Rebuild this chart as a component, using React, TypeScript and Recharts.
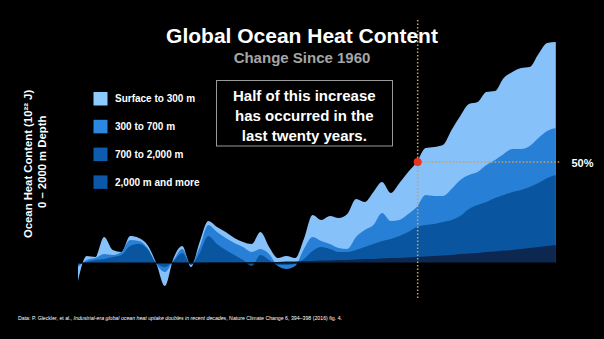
import { ComposedChart, Area, XAxis, YAxis, ReferenceLine, ReferenceDot } from "recharts";

// years of the series (x axis)
const years = [
  1960, 1961, 1962, 1963, 1964, 1965, 1966, 1967, 1968, 1969,
  1970, 1971, 1972, 1973, 1974, 1975, 1976, 1977, 1978, 1979,
  1980, 1981, 1982, 1983, 1984, 1985, 1986, 1987, 1988, 1989,
  1990, 1991, 1992, 1993, 1994, 1995, 1996, 1997, 1998, 1999,
  2000, 2001, 2002, 2003, 2004, 2005, 2006, 2007, 2008, 2009,
  2010, 2011, 2012, 2013, 2014, 2015,
];

// top edge of each band, cumulated from the bottom (10^22 J)
const surfaceEdge = [
  -1.8, 0.7, 0.6, 2.6, 1.3, 1.1, 2.7, 2.5, 1.8, 0.0,
  -2.3, 0.5, 1.7, -0.4, 2.1, 4.2, 3.6, 3.1, 2.5, 2.1,
  1.9, 3.1, 1.6, 0.5, 0.7, 0.5, 2.4, 4.8, 4.3, 4.7,
  4.5, 4.9, 6.4, 6.1, 7.1, 8.1, 7.0, 8.0, 9.1, 10.1,
  11.5, 11.6, 11.8, 13.3, 14.7, 15.9, 16.1, 17.1, 17.2, 18.5,
  19.1, 19.5, 19.6, 20.9, 22.0, 22.1,
];
const edge300to700 = [
  -0.4, 0.3, 0.5, 0.9, 0.8, 1.1, 2.3, 2.2, 1.5, -0.1,
  -0.9, 0.3, 1.4, -0.1, 1.6, 3.8, 3.1, 2.5, 2.0, 1.6,
  1.1, 1.4, 0.9, -0.3, -0.6, -0.3, 1.4, 2.6, 2.2, 1.9,
  1.5, 1.4, 2.6, 3.3, 3.8, 5.0, 4.2, 4.3, 4.9, 5.6,
  6.8, 6.7, 6.7, 7.4, 8.3, 8.8, 9.1, 9.8, 10.3, 10.9,
  11.4, 11.4, 11.7, 12.5, 13.2, 13.5,
];
const edge700to2000 = [
  -0.2, 0.1, 0.3, 0.4, 0.6, 0.8, 1.7, 1.9, 1.4, 0.0,
  -0.4, 0.2, 1.0, -0.2, 1.0, 2.7, 1.9, 1.3, 0.8, 0.3,
  -0.3, 0.8, 0.3, -0.2, -0.2, -0.1, 0.4, 1.2, 1.6, 1.4,
  1.1, 1.1, 1.3, 1.6, 1.9, 2.2, 2.4, 2.7, 3.1, 3.6,
  3.8, 3.9, 4.1, 4.3, 4.7, 5.4, 5.8, 6.1, 6.5, 6.8,
  7.1, 7.3, 7.6, 8.0, 8.5, 8.8,
];
const deepEdge = [
  0, 0, 0, 0, 0, 0, 0, 0, 0, 0,
  0, 0, 0, 0, 0, 0.05, 0.05, 0.05, 0.05, 0.05,
  0.1, 0.1, 0.1, 0.1, 0.15, 0.15, 0.2, 0.2, 0.25, 0.25,
  0.3, 0.3, 0.35, 0.4, 0.4, 0.45, 0.5, 0.5, 0.55, 0.6,
  0.65, 0.7, 0.75, 0.8, 0.9, 0.95, 1.0, 1.1, 1.15, 1.25,
  1.3, 1.4, 1.5, 1.6, 1.7, 1.8,
];

const legendLabels = ["Surface to 300 m", "300 to 700 m", "700 to 2,000 m", "2,000 m and more"];
const legendColors = ["#8ccbff", "#2b88e0", "#0d5cb0", "#0b57a8"];

const halfYear = 1999.1;
const halfValue = 10.1;

const data = years.map((year, i) => ({
  year,
  surface: surfaceEdge[i],
  mid: edge300to700[i],
  dark: edge700to2000[i],
  deep: deepEdge[i],
}));

const font = "'Liberation Sans', Arial, sans-serif";
const dotColor = "#cba062";

export default function App() {
  return (
    <div style={{ position: "absolute", left: 0, top: 0, width: 604, height: 339, background: "#000", overflow: "hidden" }}>
      <ComposedChart
        width={604}
        height={339}
        data={data}
        margin={{ top: 13, right: 39.5, bottom: 26, left: 78 }}
      >
        <XAxis type="number" dataKey="year" domain={[1960, 2016]} hide />
        <YAxis type="number" domain={[-5, 25]} hide allowDataOverflow />
        <Area type="monotone" dataKey="surface" baseValue={0} stroke="none" fill="#86c1fa" fillOpacity={1} isAnimationActive={false} activeDot={false} />
        <Area type="monotone" dataKey="mid" baseValue={0} stroke="none" fill="#2880d6" fillOpacity={1} isAnimationActive={false} activeDot={false} />
        <Area type="monotone" dataKey="dark" baseValue={0} stroke="none" fill="#0a55a0" fillOpacity={1} isAnimationActive={false} activeDot={false} />
        <Area type="monotone" dataKey="deep" baseValue={0} stroke="none" fill="#0c2850" fillOpacity={1} isAnimationActive={false} activeDot={false} />
        <ReferenceLine y={0} stroke="#000" strokeWidth={1.2} />
        <ReferenceLine
          segment={[{ x: halfYear, y: 24.3 }, { x: halfYear, y: -3.5 }]}
          stroke={dotColor}
          strokeWidth={1.5}
          strokeDasharray="1.5 2"
        />
        <ReferenceLine
          segment={[{ x: halfYear, y: halfValue }, { x: 2015.6, y: halfValue }]}
          stroke={dotColor}
          strokeWidth={1.5}
          strokeDasharray="1.5 2"
        />
        <ReferenceDot x={halfYear} y={halfValue} r={4} fill="#e8341c" stroke="none" />
      </ComposedChart>

      <svg width={604} height={339} style={{ position: "absolute", left: 0, top: 0, pointerEvents: "none" }} fontFamily={font}>
        <text x={302} y={43} textAnchor="middle" fill="#fff" fontSize={21} fontWeight="bold">
          Global Ocean Heat Content
        </text>
        <text x={302} y={63.3} textAnchor="middle" fill="#a6a6a6" fontSize={15} fontWeight="bold">
          Change Since 1960
        </text>

        <rect x={216.5} y={80.5} width={176} height={65.5} fill="none" stroke="#9a9a9a" strokeWidth={1} />
        {["Half of this increase", "has occurred in the", "last twenty years."].map((line, i) => (
          <text key={line} x={304.3} y={101 + i * 20} textAnchor="middle" fill="#fff" fontSize={15} fontWeight="bold">
            {line}
          </text>
        ))}

        {legendLabels.map((label, i) => (
          <g key={label}>
            <rect x={93.5} y={92 + i * 27.8} width={14} height={13.5} fill={legendColors[i]} />
            <text x={115} y={102.3 + i * 27.9} fill="#fff" fontSize={10} fontWeight="bold">
              {label}
            </text>
          </g>
        ))}

        <text transform="translate(31.5,238) rotate(-90)" fill="#fff" fontSize={11.3} fontWeight="bold">
          Ocean Heat Content (10²² J)
        </text>
        <text transform="translate(45.5,208) rotate(-90)" fill="#fff" fontSize={11.3} fontWeight="bold">
          0 – 2000 m Depth
        </text>

        <text x={571.5} y={166.5} fill="#fff" fontSize={11} fontWeight="bold">
          50%
        </text>

        <text x={18} y={319.5} fill="#fff" fontSize={5.2} textLength={324} lengthAdjust="spacingAndGlyphs">
          Data: P. Gleckler, et al., <tspan fontStyle="italic">Industrial-era global ocean heat uptake doubles in recent decades</tspan>, Nature Climate Change 6, 394–398 (2016) fig. 4.
        </text>
      </svg>
    </div>
  );
}
